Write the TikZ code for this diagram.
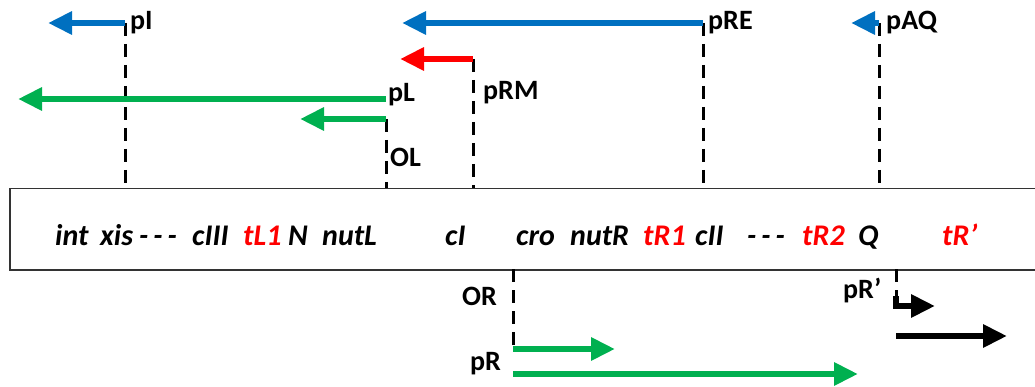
\documentclass[tikz,border=0pt]{standalone}
\usepackage{fontspec}
\setmainfont{Carlito}
\usetikzlibrary{arrows.meta}
\definecolor{oblue}{RGB}{0,112,192}
\definecolor{ogreen}{RGB}{0,176,80}
\definecolor{ored}{RGB}{255,0,0}
\newcommand{\tripledash}{-\hspace{5pt}-\hspace{5pt}-}
\begin{document}
\begin{tikzpicture}[x=1pt,y=-1pt,
 lbl/.style={font=\fontsize{28}{32}\selectfont\bfseries, anchor=base west, inner sep=0pt},
 gene/.style={font=\fontsize{30}{34}\selectfont\bfseries\itshape, anchor=base west, inner sep=0pt},
 tx/.style={line width=6pt, -{Triangle[length=24pt,width=22pt]}},
 dsh/.style={line width=3pt, dash pattern=on 13pt off 8pt},
]
\useasboundingbox (0,0) rectangle (1035,387);
% DNA box
\node (box) [draw=black!80, line width=1.5pt, anchor=north west, minimum width=1050pt, minimum height=81pt, inner sep=0pt] at (9,188) {};
% gene labels
\node[gene] (g1) at (55,245) {int};
\node[gene] (g2) at (100,245) {xis};
\node[gene] (g3) at (139,245) {\tripledash};
\node[gene] (g4) at (192,245) {cIII};
\node[gene, text=ored] (g5) at (243,245) {tL1};
\node[gene] (g6) at (288,245) {N};
\node[gene] (g7) at (322,245) {nutL};
\node[gene] (g8) at (445,245) {cI};
\node[gene] (g9) at (516,245) {cro};
\node[gene] (g10) at (570,245) {nutR};
\node[gene, text=ored] (g11) at (643,245) {tR1};
\node[gene] (g12) at (695,245) {cII};
\node[gene] (g13) at (747,245) {\tripledash};
\node[gene, text=ored] (g14) at (802,245) {tR2};
\node[gene] (g15) at (858,245) {Q};
\node[gene, text=ored] (g16) at (942,245) {tR’};
% promoter coordinates (top)
\coordinate (pIs) at (125,23);   \coordinate (pIt) at (48,23);
\coordinate (pREs) at (703,23);  \coordinate (pREt) at (402,23);
\coordinate (pAQs) at (879,23);  \coordinate (pAQt) at (851,23);
\coordinate (pRMs) at (473,59);  \coordinate (pRMt) at (400,59);
\coordinate (pLs) at (386,99);   \coordinate (pLt) at (18,99);
\coordinate (OLs) at (386,119);  \coordinate (OLt) at (300,119);
% promoter coordinates (bottom)
\coordinate (ORs) at (513,269);  \coordinate (ORe) at (513,345);
\coordinate (pRs) at (513,349);  \coordinate (pRt) at (615,349);
\coordinate (pR2s) at (513,374); \coordinate (pR2t) at (858,374);
\coordinate (pRps) at (896,269); \coordinate (pRpb) at (896,296);
\coordinate (pRpc) at (896,306); \coordinate (pRpt) at (935,306);
\coordinate (pRqs) at (896,336); \coordinate (pRqt) at (1007,336);
% dashed lines
\draw[dsh] (pIs) -- (pIs |- box.north);
\draw[dsh] (pREs) -- (pREs |- box.north);
\draw[dsh] (pAQs) -- (pAQs |- box.north);
\draw[dsh] (pRMs) -- (pRMs |- box.north);
\draw[dsh] (OLs) -- (OLs |- box.north);
\draw[dsh] (ORs) -- (ORe);
\draw[dsh] (pRps) -- (pRpb);
% transcripts
\draw[tx, oblue] (pIs) -- (pIt);
\draw[tx, oblue] (pREs) -- (pREt);
\draw[tx, oblue] (pAQs) -- (pAQt);
\draw[tx, ored] (pRMs) -- (pRMt);
\draw[tx, ogreen] (pLs) -- (pLt);
\draw[tx, ogreen] (OLs) -- (OLt);
\draw[tx, ogreen] (pRs) -- (pRt);
\draw[tx, ogreen] (pR2s) -- (pR2t);
\draw[tx, black] (pRpb) -- (pRpc) -- (pRpt);
\draw[tx, black] (pRqs) -- (pRqt);
% labels
\node[lbl] (lpI) at (130,30) {pI};
\node[lbl] (lpRE) at (708,30) {pRE};
\node[lbl] (lpAQ) at (886,30) {pAQ};
\node[lbl] (lpL) at (388,102) {pL};
\node[lbl] (lpRM) at (483,100) {pRM};
\node[lbl] (lOL) at (390,167) {OL};
\node[lbl] (lOR) at (462,305) {OR};
\node[lbl] (lpR) at (470,370) {pR};
\node[lbl] (lpRp) at (843,298) {pR’};
\end{tikzpicture}
\end{document}
